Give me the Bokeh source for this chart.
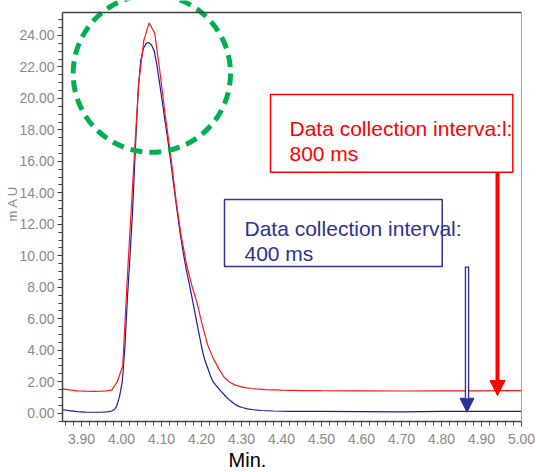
import math
from bokeh.plotting import figure
from bokeh.embed import file_html
from bokeh.resources import INLINE
from bokeh.models import (Range1d, SingleIntervalTicker, FixedTicker, NumeralTickFormatter,
                          BoxAnnotation, Label, Arrow, NormalHead, LinearAxis)

# ---- data ----
time_800 = [3.853, 3.870, 3.890, 3.910, 3.930, 3.950, 3.963, 3.976, 3.989, 4.003,
            4.016, 4.029, 4.043, 4.056, 4.069, 4.083, 4.096, 4.109, 4.123, 4.136,
            4.149, 4.163, 4.176, 4.189, 4.203, 4.216, 4.229, 4.243, 4.256, 4.269,
            4.283, 4.296, 4.309, 4.323, 4.336, 4.36, 4.40, 4.45, 4.50, 4.60,
            4.70, 4.80, 4.90, 5.00]
mau_800 = [1.55, 1.48, 1.42, 1.40, 1.39, 1.40, 1.42, 1.48, 1.97, 3.0,
           9.3, 15.0, 21.0, 23.7, 24.8, 24.15, 21.7, 19.0, 16.4, 13.6,
           11.3, 9.4, 8.1, 7.0, 5.5, 4.3, 3.5, 2.85, 2.3, 2.0,
           1.8, 1.7, 1.62, 1.57, 1.54, 1.50, 1.46, 1.44, 1.43, 1.42,
           1.41, 1.42, 1.42, 1.44]

time_400 = [3.853, 3.870, 3.890, 3.910, 3.930, 3.950, 3.965, 3.975, 3.982, 3.988,
            3.995, 4.002, 4.008, 4.015, 4.022, 4.028, 4.035, 4.042, 4.048, 4.055,
            4.062, 4.068, 4.075, 4.082, 4.088, 4.095, 4.102, 4.108, 4.115, 4.122,
            4.128, 4.135, 4.142, 4.148, 4.155, 4.162, 4.168, 4.175, 4.182, 4.188,
            4.195, 4.202, 4.208, 4.215, 4.222, 4.228, 4.235, 4.242, 4.248, 4.255,
            4.262, 4.268, 4.275, 4.282, 4.288, 4.295, 4.302, 4.315, 4.330, 4.350,
            4.38, 4.42, 4.50, 4.60, 4.70, 4.80, 4.90, 5.00]
mau_400 = [0.22, 0.16, 0.10, 0.07, 0.06, 0.06, 0.08, 0.14, 0.22, 0.45,
           1.05, 2.0, 4.0, 7.4, 10.3, 13.0, 17.0, 20.6, 22.4, 23.2,
           23.5, 23.55, 23.4, 23.0, 22.2, 21.0, 19.8, 18.7, 17.5, 16.2,
           15.0, 13.6, 12.3, 11.2, 10.1, 9.1, 8.4, 7.5, 6.6, 5.8,
           4.9, 4.0, 3.4, 2.9, 2.4, 2.05, 1.8, 1.6, 1.42, 1.22,
           1.03, 0.88, 0.74, 0.6, 0.5, 0.42, 0.36, 0.28, 0.22, 0.17,
           0.14, 0.12, 0.11, 0.10, 0.09, 0.11, 0.11, 0.11]

label_800 = ["Data collection interva:l:", "800 ms"]
label_400 = ["Data collection interval:", "400 ms"]
x_title = "Min."
y_title = "m A U"

# axis extents (data units)
X_MIN, X_MAX = 3.8525, 5.0
Y_MIN, Y_MAX = -0.527, 25.46

RED = "#ff0000"
NAVY = "#2e3192"
GREEN = "#00b050"
GRAY = "#8a8a8a"
DARK = "#404040"
TICK_FONT = "Liberation Sans"

p = figure(width=536, height=472, output_backend="svg", toolbar_location=None,
           x_range=Range1d(3.6975, 5.0375), y_range=Range1d(-3.7675, 26.2198),
           min_border=0, min_border_left=0, min_border_right=0,
           min_border_top=0, min_border_bottom=0,
           background_fill_color="white", border_fill_color="white")
p.xgrid.visible = False
p.ygrid.visible = False
p.outline_line_color = None

xa = p.xaxis[0]
ya = p.yaxis[0]
xa.fixed_location = Y_MIN
xa.bounds = (X_MIN, X_MAX)
ya.fixed_location = X_MIN
ya.bounds = (Y_MIN, Y_MAX)

for ax in (xa, ya):
    ax.axis_line_color = DARK
    ax.axis_line_width = 1.5
    ax.major_tick_line_color = DARK
    ax.minor_tick_line_color = DARK
    ax.major_tick_in = 0
    ax.major_tick_out = 5
    ax.minor_tick_in = 0
    ax.minor_tick_out = 4
    ax.major_label_text_color = GRAY
    ax.major_label_text_font = TICK_FONT
    ax.major_label_text_font_size = "14px"
    ax.formatter = NumeralTickFormatter(format="0.00")

xa.ticker = SingleIntervalTicker(interval=0.1, num_minor_ticks=5)
xa.major_label_standoff = 8
ya.ticker = SingleIntervalTicker(interval=2, num_minor_ticks=4)
ya.major_label_standoff = 3

# frame borders (top dark, right light gray) drawn as tick-less axes
top_axis = LinearAxis(fixed_location=Y_MAX, bounds=(X_MIN, X_MAX), ticker=FixedTicker(ticks=[]),
                      axis_line_color=DARK, axis_line_width=1.5,
                      major_tick_line_color=None, minor_tick_line_color=None)
right_axis = LinearAxis(fixed_location=X_MAX, bounds=(Y_MIN, Y_MAX), ticker=FixedTicker(ticks=[]),
                        axis_line_color="#a6a6a6", axis_line_width=1,
                        major_tick_line_color=None, minor_tick_line_color=None)
p.add_layout(top_axis, "above")
p.add_layout(right_axis, "right")

# traces
p.line(time_400, mau_400, line_color="#1c1ca0", line_width=1.2)
p.line(time_800, mau_800, line_color="#ff1a1a", line_width=1.2)

# green dashed highlight circle
p.circle(x=[4.0758], y=[21.58], radius=78.7, radius_units="screen",
         fill_color=None, line_color=GREEN, line_width=5, line_dash="12 7")

# annotation boxes
p.add_layout(BoxAnnotation(left=4.3725, right=4.9783, top=20.25, bottom=15.31,
                           fill_color="white", fill_alpha=1.0,
                           line_color=RED, line_alpha=1.0, line_width=1.5))
p.add_layout(BoxAnnotation(left=4.2575, right=4.8018, top=13.58, bottom=9.32,
                           fill_color="white", fill_alpha=1.0,
                           line_color=NAVY, line_alpha=1.0, line_width=1.5))

for txt, yy in zip(label_800, [18.07, 16.48]):
    p.add_layout(Label(x=4.42, y=yy, text=txt, text_color=RED,
                       text_font="Liberation Sans", text_font_size="21px",
                       text_align="left", text_baseline="alphabetic"))
for txt, yy in zip(label_400, [11.75, 10.13]):
    p.add_layout(Label(x=4.3075, y=yy, text=txt, text_color=NAVY,
                       text_font="Liberation Sans", text_font_size="21px",
                       text_align="left", text_baseline="alphabetic"))

# arrows
p.add_layout(Arrow(end=NormalHead(size=15, fill_color=RED, line_color=RED),
                   x_start=4.940, y_start=15.31, x_end=4.940, y_end=1.12,
                   line_color=RED, line_width=4))
p.add_layout(Arrow(end=NormalHead(size=14, fill_color=NAVY, line_color=NAVY),
                   x_start=4.8638, y_start=9.32, x_end=4.8638, y_end=0.06,
                   line_color=NAVY, line_width=4.5))
p.add_layout(Arrow(end=None, x_start=4.8638, y_start=9.24, x_end=4.8638, y_end=0.95,
                   line_color="white", line_width=1.8))

# axis titles
p.add_layout(Label(x=4.315, y=-2.95, text=x_title, text_align="center",
                   text_baseline="alphabetic", text_color="black",
                   text_font="Liberation Sans", text_font_size="20px"))
p.add_layout(Label(x=3.727, y=13.33, text=y_title, angle=math.pi / 2,
                   text_align="center", text_baseline="middle", text_color=GRAY,
                   text_font="Liberation Sans", text_font_size="13px"))

open("out.html", "w").write(file_html(p, INLINE))
